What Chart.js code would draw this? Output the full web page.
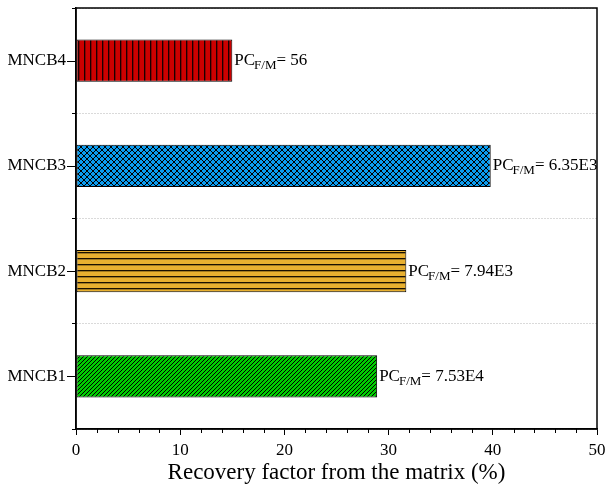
<!DOCTYPE html>
<html>
<head>
<meta charset="utf-8">
<script src="https://cdn.jsdelivr.net/npm/chart.js@4/dist/chart.umd.min.js"></script>
<style>
  body { margin: 0; background: #fff; }
  canvas { display: block; }
</style>
</head>
<body>
<canvas id="chart" width="605" height="489"></canvas>
<script>
// datos
const categorias = ['MNCB1', 'MNCB2', 'MNCB3', 'MNCB4'];
const recuperacion = [28.9, 31.7, 39.8, 15.0];
const pcValores = ['7.53E4', '7.94E3', '6.35E3', '56'];
const ticksX = [0, 10, 20, 30, 40, 50];

const FUENTE = '"Liberation Serif", "Times New Roman", serif';

// patrones de relleno
function patron(tam, color, dibujar) {
    const c = document.createElement('canvas');
    c.width = tam; c.height = tam;
    const g = c.getContext('2d');
    g.fillStyle = color;
    g.fillRect(0, 0, tam, tam);
    g.fillStyle = '#000';
    dibujar(g, tam);
    return document.getElementById('chart').getContext('2d').createPattern(c, 'repeat');
}

const ctx = document.getElementById('chart').getContext('2d');

const pVerde = patron(4, '#00cc00', (g, t) => {
    for (let i = 0; i < t; i++) g.fillRect(i, t - 1 - i, 1, 1);
});
const pNaranja = patron(6, '#e8b030', (g, t) => {
    g.fillStyle = '#1a1000';
    g.fillRect(0, 0, t, 1);
    g.fillStyle = 'rgba(0,0,0,0.3)';
    g.fillRect(0, 1, t, 1);
});
const pAzul = patron(6, '#0a9cf0', (g, t) => {
    for (let i = 0; i < t; i++) {
        g.fillRect(i, i, 1, 1);
        g.fillRect(i, t - 1 - i, 1, 1);
    }
});
const pRojo = patron(6, '#cc0000', (g, t) => {
    g.fillStyle = '#1a0000';
    g.fillRect(0, 0, 1, t);
    g.fillStyle = 'rgba(0,0,0,0.3)';
    g.fillRect(1, 0, 1, t);
});

// marco, ticks menores y etiquetas PC
const extras = {
    id: 'extras',
    afterDraw(chart) {
        const { ctx, chartArea: a, scales: { x, y } } = chart;
        ctx.save();
        ctx.strokeStyle = '#000';
        ctx.lineWidth = 1.5;
        ctx.strokeRect(a.left, a.top, a.right - a.left, a.bottom - a.top);

        // ticks menores cada 2
        ctx.lineWidth = 1;
        ctx.beginPath();
        for (let v = 2; v < 50; v += 2) {
            if (v % 10 === 0) continue;
            const px = Math.round(x.getPixelForValue(v)) + 0.5;
            ctx.moveTo(px, a.bottom);
            ctx.lineTo(px, a.bottom + 4);
        }
        // ticks de categoría
        categorias.forEach((c, i) => {
            const py = Math.round(y.getPixelForValue(i)) + 0.5;
            ctx.moveTo(a.left - 9, py);
            ctx.lineTo(a.left, py);
        });
        ctx.stroke();

        // etiquetas PC_F/M
        const meta = chart.getDatasetMeta(0);
        ctx.fillStyle = '#000';
        ctx.textBaseline = 'middle';
        ctx.textAlign = 'left';
        meta.data.forEach((bar, i) => {
            let px = bar.x + 2;
            const py = bar.y;
            ctx.font = '17px ' + FUENTE;
            ctx.fillText('PC', px, py);
            px += ctx.measureText('PC').width - 1;
            ctx.font = '13px ' + FUENTE;
            ctx.fillText('F/M', px, py + 5);
            px += ctx.measureText('F/M').width;
            ctx.font = '17px ' + FUENTE;
            ctx.fillText('= ' + pcValores[i], px, py);
        });
        ctx.restore();
    }
};

new Chart(ctx, {
    type: 'bar',
    data: {
        labels: categorias,
        datasets: [{
            data: recuperacion,
            backgroundColor: [pVerde, pNaranja, pAzul, pRojo],
            borderColor: '#000',
            borderWidth: 1,
            borderSkipped: false,
            barPercentage: 0.4,
            categoryPercentage: 1
        }]
    },
    options: {
        indexAxis: 'y',
        responsive: false,
        animation: false,
        events: [],
        layout: { padding: { left: 0, right: 8, top: 8, bottom: 0 } },
        plugins: {
            legend: { display: false },
            tooltip: { enabled: false }
        },
        scales: {
            x: {
                type: 'linear',
                min: 0,
                max: 50,
                afterBuildTicks: (s) => { s.ticks = ticksX.map(v => ({ value: v })); },
                afterFit: (s) => { s.height = 60; s.paddingLeft = 0; s.paddingRight = 0; },
                border: { display: true, color: '#000', width: 1.5 },
                grid: { drawOnChartArea: false, drawTicks: true, tickLength: 6, tickColor: '#000' },
                ticks: { color: '#000', font: { family: FUENTE, size: 17 }, padding: 5 },
                title: {
                    display: true,
                    text: 'Recovery factor from the matrix (%)',
                    color: '#000',
                    font: { family: FUENTE, size: 23 },
                    padding: { top: 0, bottom: 2 }
                }
            },
            y: {
                reverse: true,
                afterFit: (s) => { s.width = 76; s.paddingTop = 0; s.paddingBottom = 0; },
                border: { display: true, color: '#000', width: 1.5, dash: [1, 2] },
                grid: {
                    offset: true,
                    color: '#b4b4b4',
                    lineWidth: 1,
                    drawTicks: true,
                    tickLength: 4,
                    tickColor: '#000',
                    tickBorderDash: []
                },
                ticks: { color: '#000', font: { family: FUENTE, size: 17 }, padding: 6 }
            }
        }
    },
    plugins: [extras]
});
</script>
</body>
</html>
